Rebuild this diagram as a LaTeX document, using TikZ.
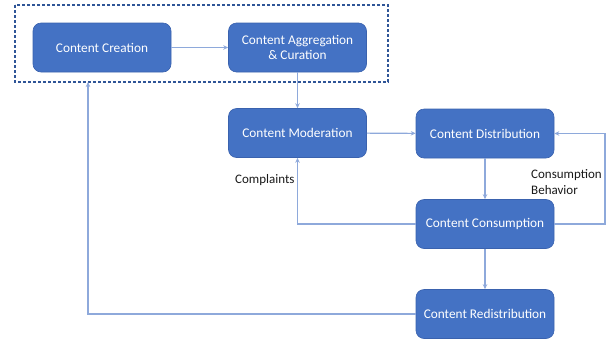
\documentclass[tikz,border=0pt]{standalone}
\usepackage{fontspec}
\setmainfont{Carlito}
\usetikzlibrary{arrows.meta}
\definecolor{boxfill}{HTML}{4472C4}
\definecolor{boxline}{HTML}{3A62AE}
\definecolor{flow}{HTML}{8EA9DB}
\definecolor{groupline}{HTML}{2F5597}
\tikzset{
  stage/.style={draw=boxline, line width=0.6pt, fill=boxfill, rounded corners=8pt,
    minimum width=138pt, minimum height=49pt, text=white, align=center,
    font=\fontsize{13.3}{15.5}\selectfont, inner sep=2pt},
  flowline/.style={draw=flow, line width=1.1pt, -{Stealth[length=5pt,width=4.5pt]}},
  note/.style={text=black!90, align=left, font=\fontsize{13}{16.5}\selectfont, inner sep=0pt}
}
\begin{document}
\begin{tikzpicture}[x=1pt,y=-1pt]
\useasboundingbox (0,0) rectangle (615,341);
% stages
\node[stage] (create) at (102,47.5) {Content Creation};
\node[stage] (aggr) at (297.5,47.5) {Content Aggregation\\\& Curation};
\node[stage] (moder) at (297.5,133) {Content Moderation};
\node[stage] (distr) at (485,133.5) {Content Distribution};
\node[stage] (consume) at (485,224) {Content Consumption};
\node[stage] (redistr) at (485,314) {Content Redistribution};
% production group
\draw[groupline, line width=1.6pt, dash pattern=on 3pt off 2pt] (15,5) rectangle (388,82);
\coordinate (groupbottom) at (88,82);
\coordinate (rightturn) at (605,224);
\coordinate (righttop) at (605,133.5);
% connectors
\draw[flowline] (create) -- (aggr);
\draw[flowline] (aggr) -- (moder);
\draw[flowline] (moder) -- (distr);
\draw[flowline] (distr) -- (consume);
\draw[flowline] (consume) -- (redistr);
\draw[flowline] (consume.west) -| (moder.south);
\draw[flowline] (consume.east) -- (rightturn) -- (righttop) -- (distr.east);
\draw[flowline] (redistr.west) -| (groupbottom);
% labels
\node[note, anchor=west] (complaints) at (235,180) {Complaints};
\node[note, anchor=west] (behavior) at (531,182) {Consumption\\Behavior};
\end{tikzpicture}
\end{document}
